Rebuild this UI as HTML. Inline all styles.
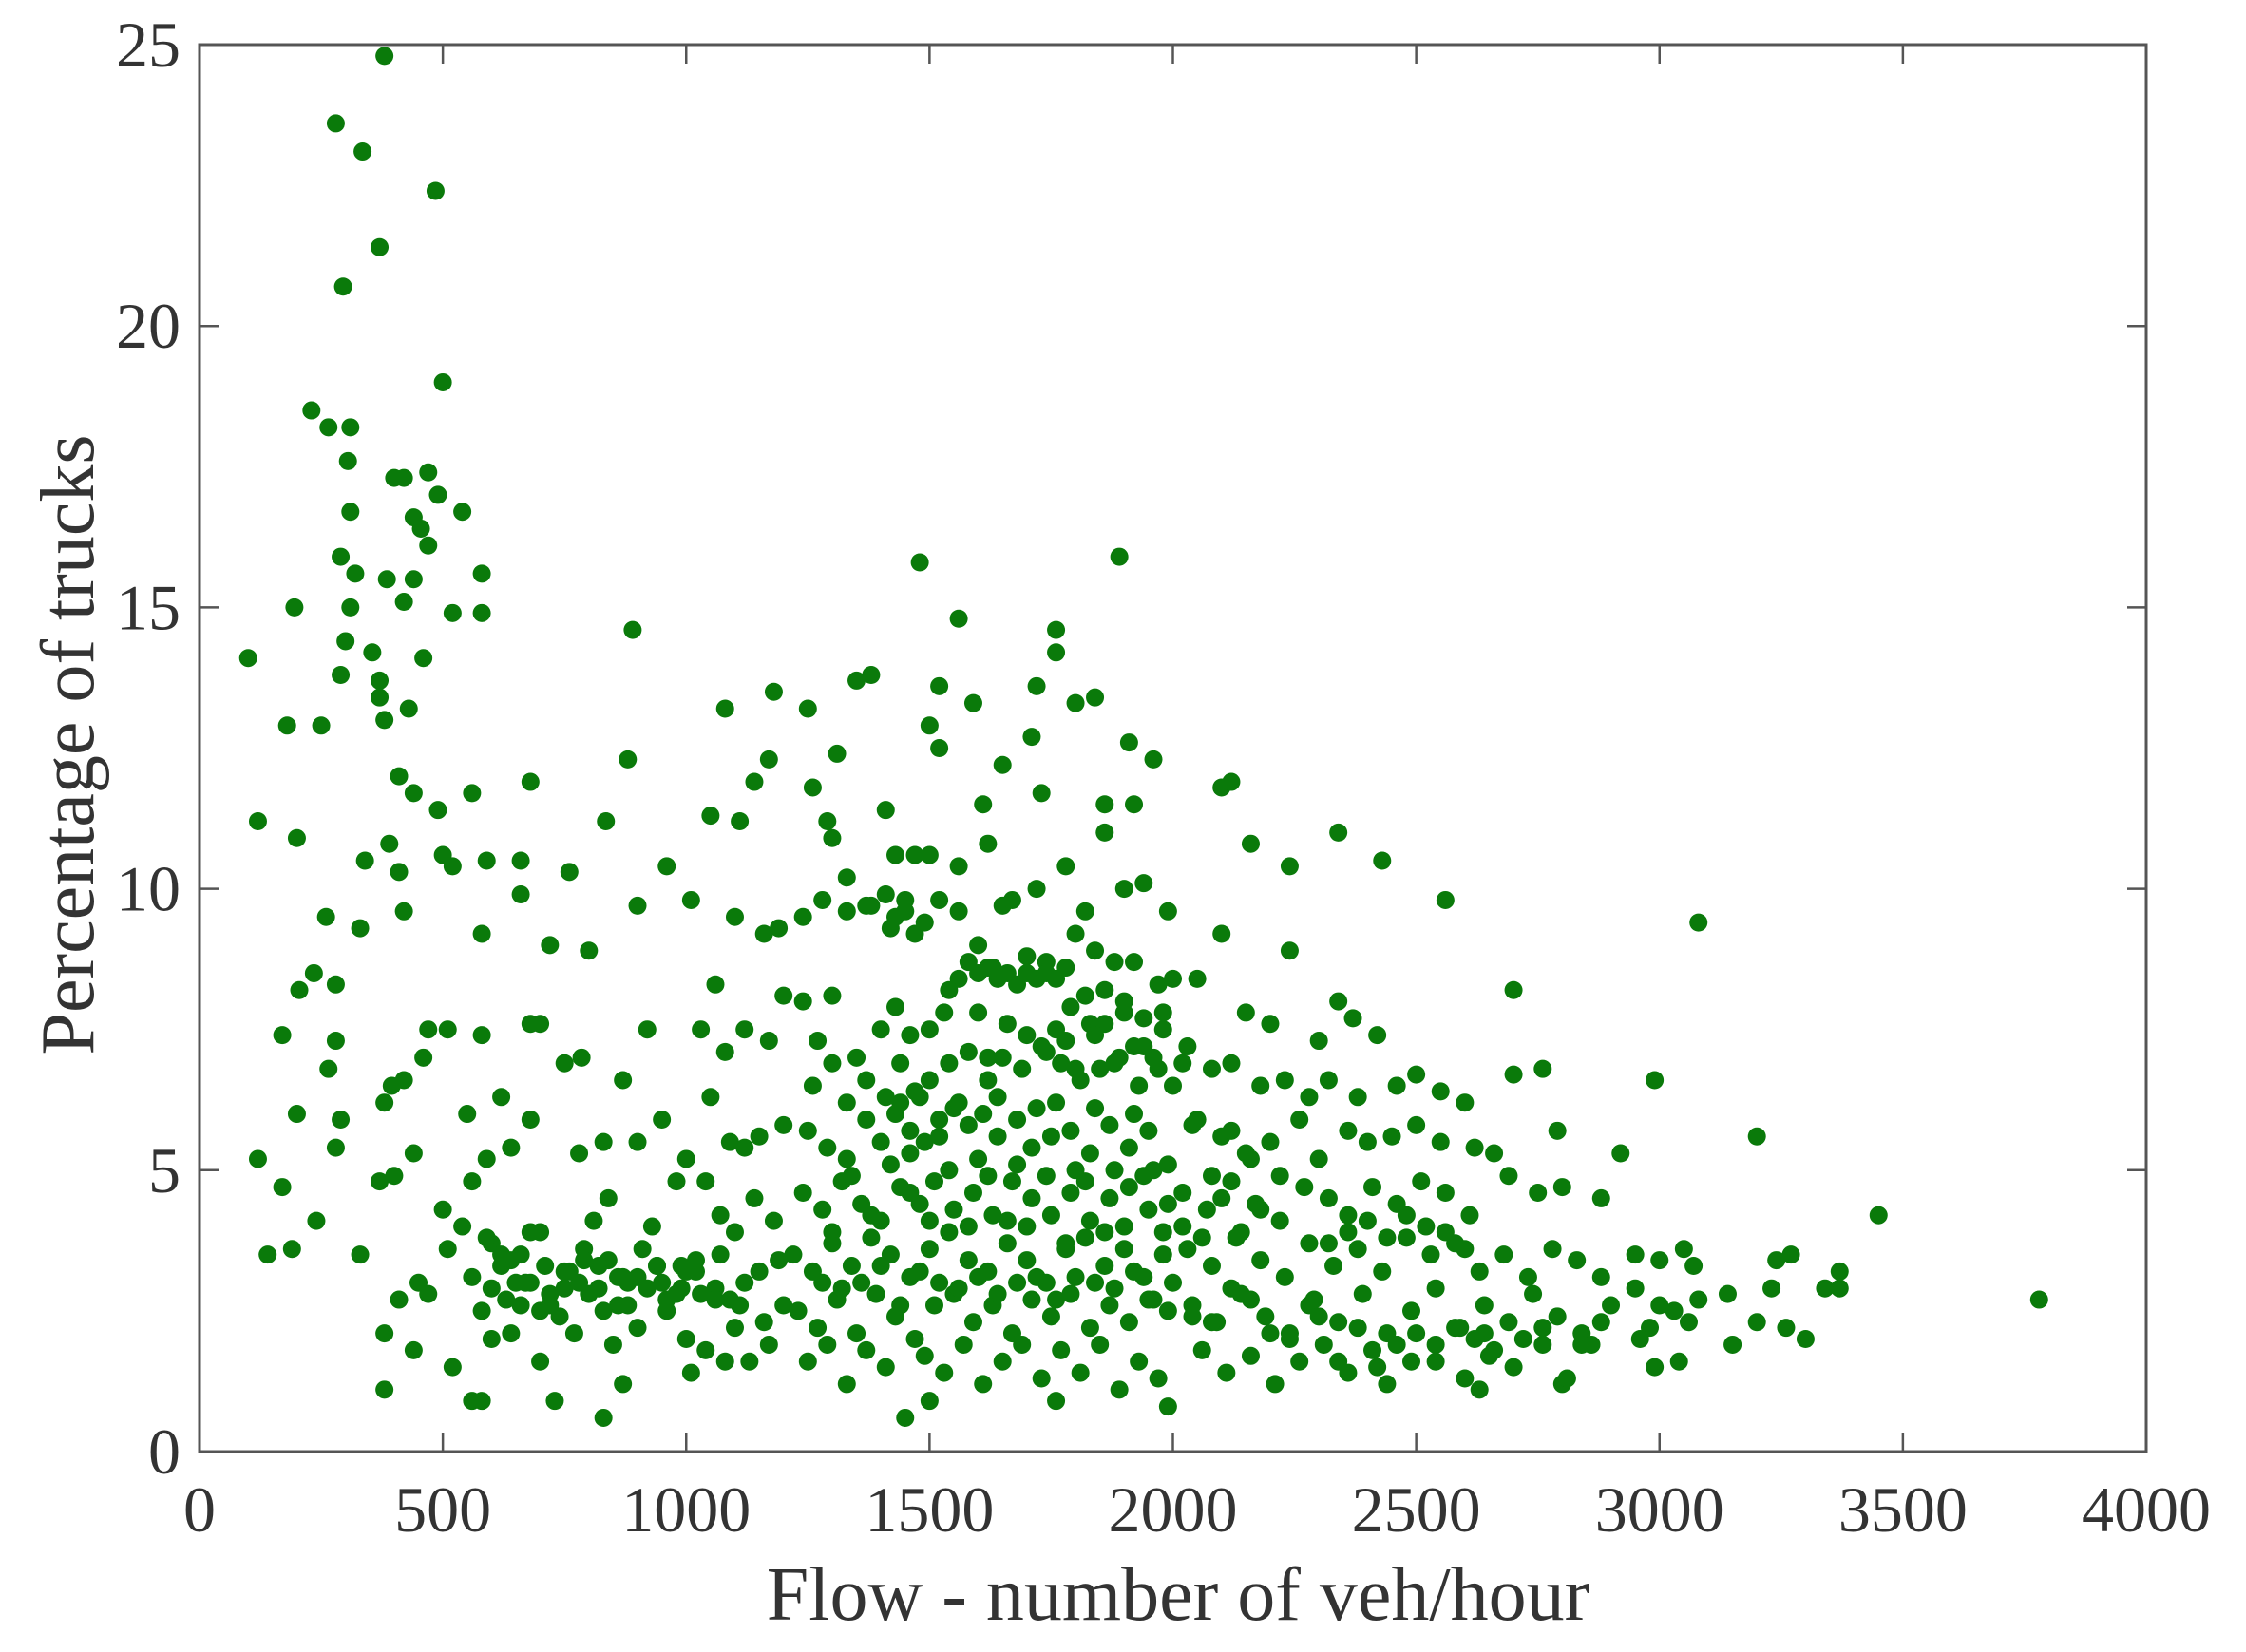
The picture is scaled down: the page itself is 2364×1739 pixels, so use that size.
<!DOCTYPE html>
<html><head><meta charset="utf-8"><style>
html,body{margin:0;padding:0;background:#fff;}
svg{display:block;}
text{font-family:"Liberation Serif",serif;fill:#333;}
</style></head><body>
<svg id="chart" width="2364" height="1739" viewBox="0 0 2364 1739">
<g id="marks"></g>
<g id="axes"></g>
</svg>
<script>
const xTicks=[0,500,1000,1500,2000,2500,3000,3500,4000];
const yTicks=[0,5,10,15,20,25];
const flowValues=[380,280,335,485,370,295,500,230,265,310,305,400,420,470,540,310,440,455,490,470,290,320,385,440,580,195,310,420,520,580,100,300,355,460,290,370,370,430,380,180,250,410,440,560,680,490,120,200,340,390,500,520,590,660,410,420,660,760,330,580,720,800,835,880,890,260,235,205,280,170,280,470,510,580,700,680,785,750,395,420,460,265,200,290,380,550,620,680,120,280,440,590,640,400,370,500,560,170,240,190,140,330,450,410,470,380,440,380,560,580,520,600,640,700,730,830,510,540,600,620,660,680,650,720,750,700,770,790,810,840,780,830,870,900,920,950,860,880,900,850,870,820,940,960,990,930,980,1000,900,960,1010,1050,1080,1110,1140,1170,1060,1100,1160,1190,1200,1030,1080,1120,1170,1200,1050,1090,1120,1150,1040,1070,1100,1140,1180,1020,1060,1090,1120,1160,1000,1040,1080,1130,1170,1200,1010,1100,
1250,1180,1310,1350,1380,1480,1520,1560,1590,1500,1520,1610,1650,1720,1760,1760,1710,1730,1800,1840,1890,1910,1960,1860,1920,1260,1300,1290,1330,1370,1410,1430,1470,1500,1560,1620,1670,1720,1780,1820,1860,1900,1940,1990,1240,1280,1330,1380,1420,1450,1520,1560,1600,1630,1650,1700,1740,1800,1840,1880,1920,1970,2000,1240,1270,1300,1350,1400,1430,1460,1500,1530,1560,1600,1640,1680,1720,1760,1790,1830,1860,1900,1940,1980,1260,1300,1330,1370,1410,1440,1470,1500,1540,1580,1620,1650,1690,1730,1770,1810,1850,1890,1930,1970,1250,1290,1330,1370,1400,1430,1460,1490,1520,1550,1580,1610,1640,1680,1710,1750,1790,1830,1870,1910,1950,1990,1240,1280,1320,1360,1400,1440,1480,1510,1550,1590,1630,1670,1710,1750,1790,1830,1870,1910,1950,1990,1220,1260,1300,1340,1380,1420,1460,1500,1540,1580,1620,1660,1700,1740,1780,1820,1860,1900,1940,1980,1230,1270,1310,1350,1390,1430,1470,1510,1550,1590,1630,1670,1710,1750,1790,1830,1870,1910,1950,1990,1250,1290,1330,1370,1410,1450,1490,1530,1570,1610,1650,1690,1730,1770,1810,1850,1890,1930,1970,1990,1500,1760,
2100,2120,2160,2240,2340,2430,2560,3080,2100,2240,2050,2150,2200,2300,2340,2370,2420,2500,2700,2700,2760,2030,2080,2120,2180,2230,2280,2320,2380,2460,2550,2600,2990,2050,2100,2150,2200,2260,2300,2360,2400,2450,2500,2550,2620,2660,2790,3200,2020,2070,2120,2170,2220,2270,2320,2360,2410,2460,2510,2560,2610,2690,2750,2800,2880,2920,2030,2080,2130,2180,2230,2280,2330,2380,2430,2480,2530,2580,2630,2680,2730,2780,2830,2880,2950,3000,3050,3070,3450,2040,2090,2140,2190,2240,2290,2340,2390,2440,2490,2540,2590,2640,2690,2740,2790,2840,2900,2950,2980,3030,3080,3140,3200,3230,3260,3300,3340,3370,3370,3780,3240,3270,2060,2110,2160,2210,2260,2310,2360,2410,2440,2490,2540,2600,2650,2700,2760,2800,2860,2990,3040,3150,2630,2810,
1410,1430,1450,1470,1490,1540,1580,1620,1660,1700,1740,1780,1820,1860,1900,1940,1980,2020,1600,1620,1660,1700,1740,1760,1780,1800,1840,1880,1920,1960,2000,1440,1460,1480,1520,1560,1600,1640,1680,1720,1760,1800,1840,1880,1920,1960,2040,2080,2120,2160,1300,1340,1380,1420,1460,1500,1540,1580,1620,1660,1700,1740,1780,1820,1860,1900,1940,1980,2020,2060,2100,2140,2180,2220,1280,1320,1360,1400,1440,1480,1520,1560,1600,1640,1680,1720,1760,1800,1840,1880,1920,1960,2000,2040,2080,2120,2160,2200,2240,2280,
560,600,640,680,720,760,800,840,880,920,960,1000,580,620,660,700,740,780,820,860,900,940,980,1020,1060,590,630,670,710,750,790,830,870,910,950,990,1030,1070,1110,1150,1190,
2300,2340,2380,2420,2460,2500,2540,2580,2620,2660,2320,2360,2400,2440,2480,2520,2560,2600,2640,2720,2760,2840,2880,2960,3000,3060];
const truckPct=[24.8,23.6,23.1,22.4,21.4,20.7,19,18.5,18.2,18.2,17.6,17.3,17.3,17.4,16.7,16.7,16.6,16.4,17,16.1,15.9,15.6,15.5,15.5,15.6,15,15,15.1,14.9,14.9,14.1,14.4,14.2,14.1,13.8,13.7,13.4,13.2,13,12.9,12.9,12,11.7,11.7,11.9,11.4,11.2,10.9,10.5,10.8,10.6,10.4,10.5,10.5,10.3,9.6,9.9,10.3,9.3,9.2,9,8.9,11.2,12.3,14.6,9.5,8.5,8.2,8.3,7.4,7.3,7.5,7.5,7.4,7.6,7.6,7,6.9,6.5,6.6,7,6.8,6,5.9,6.2,6,6.3,5.9,5.2,5.4,5.3,5.2,5.4,4.9,4.8,4.3,4.8,4.7,4.1,3.6,3.5,3.5,3,2.7,2.8,2.1,1.8,1.1,0.9,0.9,1.5,2,2.1,1.6,0.9,0.6,3.6,4,3.7,3.3,3.5,3.9,3,2.8,3.2,2.5,2.1,3.6,4.1,4.5,5.3,5.5,6.6,5.5,7.5,5.9,3.1,2.6,2.2,1.9,1.2,2.9,3.3,2.5,2.9,4,4.8,5.2,9.7,10.4,9.8,11.3,13.2,11.2,11.9,12.3,8.3,9.5,9.2,9.3,8.1,7.5,7.1,7.5,7.3,5.8,6.3,5.5,5.4,5.6,4.8,4.2,3.9,4.5,4.1,3.2,2.9,2.7,3,2.3,2,1.8,1.6,1.6,1.9,2.6,1.4,2.2,
13.2,13.5,12.4,13.7,13.8,15.8,13.6,14.8,13.3,12.9,12.5,11.5,12.2,13.6,14.6,14.2,12.7,11.7,13.3,13.4,15.9,12.6,12.3,11.5,11.5,11.8,10.9,11.2,10.2,9.7,11.4,10.6,10.6,10.6,10.4,10.8,9.8,10,10.4,9.6,11,10,10.1,9.6,9.5,9.8,9.6,9.7,9.3,9.6,9.8,9.6,9,8.6,9.7,8.8,8.7,9.2,8.9,8.7,8.7,8.3,8.4,8,7.3,8.1,7,7.5,7.9,7.4,7.5,7.8,8.4,8.5,8.4,8.3,8.4,8.4,7.9,7.6,7.6,7.8,7.2,7.5,6.5,6.9,6.2,6.6,6.3,6.9,6.4,6.6,6.9,7.1,6.6,7,6.8,7.2,6.9,6.6,6.8,7,6.5,6.8,5.7,5.4,5.2,5.9,5.5,6,5.7,5.5,5.9,6.1,5.8,6,5.6,5.9,5.4,5.6,5.7,5.3,5.8,5.4,5.7,5.1,4.6,4.3,4.8,4.4,4.1,4.7,4.4,4.8,4.3,4.6,4.2,4.8,4.5,4.2,4.6,4.1,4.5,4.7,4.3,4.4,3.5,3.2,3.7,3.3,3.8,3.5,3.1,3.6,3.9,3.4,3.2,3.7,3.4,3,3.6,3.8,3.3,3.6,3.1,3.5,2.5,2.2,2.7,2.1,2.8,2.4,2,2.6,2.8,2.3,2.6,2.1,2.7,2.4,2.8,2.2,2.6,2.3,2.7,2.5,1.6,1.9,1.2,1.8,1.5,0.6,1.7,1.4,1.9,1.2,1.6,1.9,1.3,1.8,1.4,1.9,1.1,1.6,1.3,0.8,0.9,0.9,
11.8,11.9,10.8,10.4,11,10.5,9.8,9.4,9.2,8.9,8.4,7.8,7.6,7.3,8,7.7,7.4,6.7,8.2,6.7,6.8,7.2,6.8,6.9,6.5,6.6,6.3,6.6,6.3,6.5,6.4,6.2,6.6,5.9,5.6,5.3,5.5,5.9,5.2,5.7,5.5,5.6,5.8,5.5,5.4,5.3,5.7,5.6,4.6,4.3,4.8,4.4,4.1,4.7,4.5,4.2,4.7,4.4,4.8,4.6,4.2,4.9,4.6,4.7,4.5,5.3,3.6,3.3,3.8,3.4,3.1,3.7,3.3,3.6,3.2,3.8,3.5,3.7,3.2,3.5,3.1,3.6,3.4,3.1,3.5,3.4,3.6,3.3,4.2,2.6,2.3,2.8,2.4,2.1,2.7,2.3,2.8,2.1,2.5,2.9,2.2,2.6,2.3,2.8,2.4,2.1,2.6,2.9,2.2,2.5,2.7,2.8,2.3,2.9,2.2,2,2.9,3.2,2.9,2.7,3.4,3.5,1.8,1.4,1.7,1.2,1.6,1.9,1.4,1.8,1.2,1.6,1.9,1.3,1.7,1.5,1.9,1.2,1.9,1.5,1.6,1.9,1.1,1.3,
9.9,9.5,9.8,9.2,9.4,8.2,8.7,8.6,8.5,8.5,8.5,8.6,8.1,8.2,8.0,7.7,7.8,6.9,7.8,7.0,7.6,7.4,7.1,7.5,7.3,6.8,7.4,6.9,7.2,7.0,6.5,6.2,5.3,6.3,5.6,6.2,5.2,6.3,5.1,6.1,6.2,5.0,6.1,5.0,6.0,5.0,5.8,4.9,5.7,5.2,3.9,4.9,4.2,5.1,4.6,4.1,5.0,4.0,4.9,4.1,4.0,4.9,3.7,4.8,3.9,4.0,4.9,3.9,4.0,3.8,4.5,3.9,4.3,4.9,3.0,2.9,3.0,3.3,2.6,3.2,3.0,2.9,3.1,2.8,3.0,3.1,2.7,3.1,3.0,2.9,3.2,2.7,3.0,2.4,2.3,2.9,2.7,2.1,2.0,2.6,
3.1,2.9,3.4,3.0,2.6,3.2,2.8,3.4,3.0,2.9,2.7,3.2,2.5,3.5,2.6,3.9,2.4,3.0,3.3,2.6,3.1,3.3,2.8,3.4,2.7,3.8,2.7,3.0,3.3,2.9,3.4,2.5,3.1,3.6,3.0,3.3,2.8,3.5,2.6,3.2,3.4,
2.4,1.6,2.2,1.5,1.9,2.1,1.6,2.2,2.0,1.8,3.7,3.9,4.1,3.8,4.2,4.0,3.9,3.6,2.1,2.0,2.2,1.9,2.3,2.0,2.6,2.3];

const L=210,R=2259,T=47,B=1528;
const NS='http://www.w3.org/2000/svg';
function xs(v){return L+(v-0)/4000*(R-L);}
function ys(v){return B-(v-0)/25*(B-T);}
const marks=document.getElementById('marks');
const axes=document.getElementById('axes');
function mk(tag,attrs,parent){const e=document.createElementNS(NS,tag);for(const k in attrs)e.setAttribute(k,attrs[k]);parent.appendChild(e);return e;}
const n=Math.min(flowValues.length,truckPct.length);
for(let i=0;i<n;i++){
  const c=mk('circle',{cx:xs(flowValues[i]),cy:ys(truckPct[i]),r:9.5,fill:'#0a7a0a'},marks);
  
  
}
const frame=mk('rect',{x:L,y:T,width:R-L,height:B-T,fill:'none',stroke:'#555',"stroke-width":3},axes);


xTicks.forEach(v=>{
  const x=xs(v);
  mk('line',{x1:x,y1:B,x2:x,y2:B-20,stroke:'#555',"stroke-width":2.5},axes);
  mk('line',{x1:x,y1:T,x2:x,y2:T+20,stroke:'#555',"stroke-width":2.5},axes);
  const t=mk('text',{x:x,y:1612,"text-anchor":"middle","font-size":68},axes);
  t.textContent=v;
  
  
});
yTicks.forEach(v=>{
  const y=ys(v);
  mk('line',{x1:L,y1:y,x2:L+20,y2:y,stroke:'#555',"stroke-width":2.5},axes);
  mk('line',{x1:R,y1:y,x2:R-20,y2:y,stroke:'#555',"stroke-width":2.5},axes);
  const t=mk('text',{x:190,y:y+23,"text-anchor":"end","font-size":68},axes);
  t.textContent=v;
  
  
});
const xt=mk('text',{x:1240,y:1705,"text-anchor":"middle","font-size":80},axes);
xt.textContent='Flow - number of veh/hour';


const yt=mk('text',{x:0,y:0,"text-anchor":"middle","font-size":80,transform:'translate(98,784) rotate(-90)'},axes);
yt.textContent='Percentage of trucks';


</script>
</body></html>
